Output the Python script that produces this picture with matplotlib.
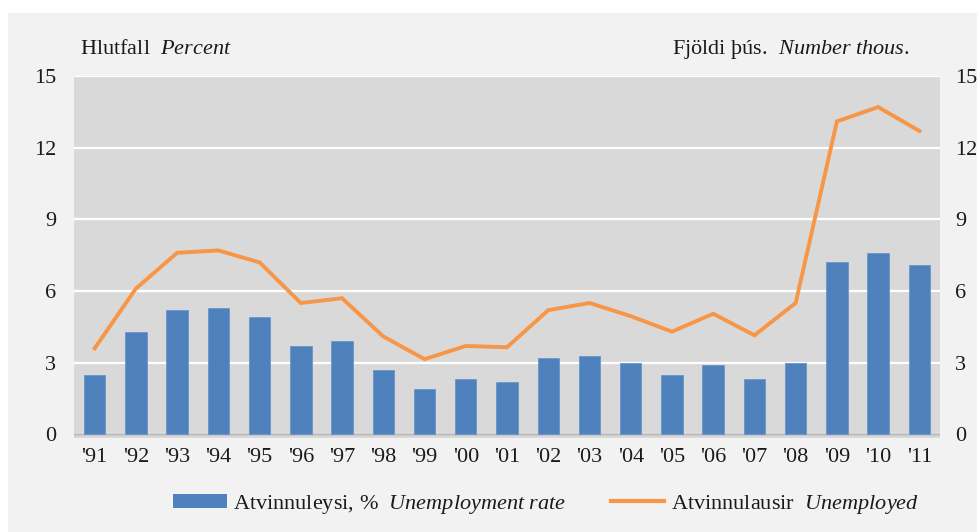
import matplotlib
matplotlib.use("Agg")
import matplotlib.pyplot as plt
from matplotlib.patches import Rectangle
from matplotlib.lines import Line2D
import numpy as np

plt.rcParams['font.family'] = ['Liberation Serif', 'DejaVu Serif']
plt.rcParams['mathtext.fontset'] = 'custom'
plt.rcParams['mathtext.rm'] = 'Liberation Serif'
plt.rcParams['mathtext.it'] = 'Liberation Serif:italic'

years = ["'91", "'92", "'93", "'94", "'95", "'96", "'97", "'98", "'99", "'00", "'01",
         "'02", "'03", "'04", "'05", "'06", "'07", "'08", "'09", "'10", "'11"]
rate = [2.5, 4.3, 5.2, 5.3, 4.9, 3.7, 3.9, 2.7, 1.9, 2.3, 2.2,
        3.2, 3.3, 3.0, 2.5, 2.9, 2.3, 3.0, 7.2, 7.6, 7.1]
unemployed = [3.6, 6.1, 7.6, 7.7, 7.2, 5.5, 5.7, 4.1, 3.15, 3.7, 3.65,
              5.2, 5.5, 4.95, 4.3, 5.05, 4.15, 5.5, 13.1, 13.7, 12.7]
yticks = [0, 3, 6, 9, 12, 15]

blue = '#4f81bd'
orange = '#f79646'
txt = '#1a1a1a'
fs = 16

fig = plt.figure(figsize=(9.78, 5.32), dpi=100)
fig.patch.set_facecolor('white')
fig.patches.append(Rectangle((8 / 978, 0), 1 - 8 / 978, 1 - 13 / 532, transform=fig.transFigure,
                             facecolor='#f2f2f2', edgecolor='none', zorder=-10))

ax = fig.add_axes([74 / 978, 94 / 532, (940 - 74) / 978, 362 / 532])
ax.set_facecolor('#d9d9d9')
x = np.arange(len(years))
ax.bar(x, rate, width=0.52, color=blue, edgecolor='#6a96cc', linewidth=0.6, zorder=3)
ax.set_xlim(-0.5, len(years) - 0.5)
ax.set_ylim(-0.15, 15)
ax.set_yticks(yticks)
ax.grid(axis='y', color='white', linewidth=1.6, zorder=1)
ax.axhline(0, color='#bfbfbf', linewidth=1.8, zorder=2)
ax.set_xticks(x)
ax.set_xticklabels(years)
for s in ax.spines.values():
    s.set_visible(False)
ax.tick_params(axis='both', length=0, labelsize=fs, colors=txt)
ax.tick_params(axis='y', pad=13)
ax.tick_params(axis='x', pad=7)

ax2 = ax.twinx()
ax2.plot(x, unemployed, color=orange, linewidth=2.8, zorder=4, solid_joinstyle='miter')
ax2.set_ylim(-0.15, 15)
ax2.set_yticks(yticks)
for s in ax2.spines.values():
    s.set_visible(False)
ax2.tick_params(axis='y', length=0, labelsize=fs, colors=txt, pad=11)

fig.text(80 / 978, 1 - 54 / 532, r'Hlutfall  $\it{Percent}$', fontsize=fs, color=txt,
         ha='left', va='baseline')
fig.text(910 / 978, 1 - 54 / 532, r'Fjöldi þús.  $\it{Number\ thous.}$', fontsize=fs, color=txt,
         ha='right', va='baseline')

handles = [Rectangle((0, 0), 1, 1, facecolor=blue, edgecolor='none'),
           Line2D([0], [0], color=orange, linewidth=3)]
labels = [r'Atvinnuleysi, %  $\it{Unemployment\ rate}$', r'Atvinnulausir  $\it{Unemployed}$']
fig.legend(handles, labels, loc='center', bbox_to_anchor=(546 / 978, 1 - 504 / 532), ncol=2,
           frameon=False, fontsize=fs, handlelength=2.4, handleheight=0.6, handletextpad=0.3,
           columnspacing=2.0, labelcolor=txt)

fig.savefig('out.png', dpi=100)
